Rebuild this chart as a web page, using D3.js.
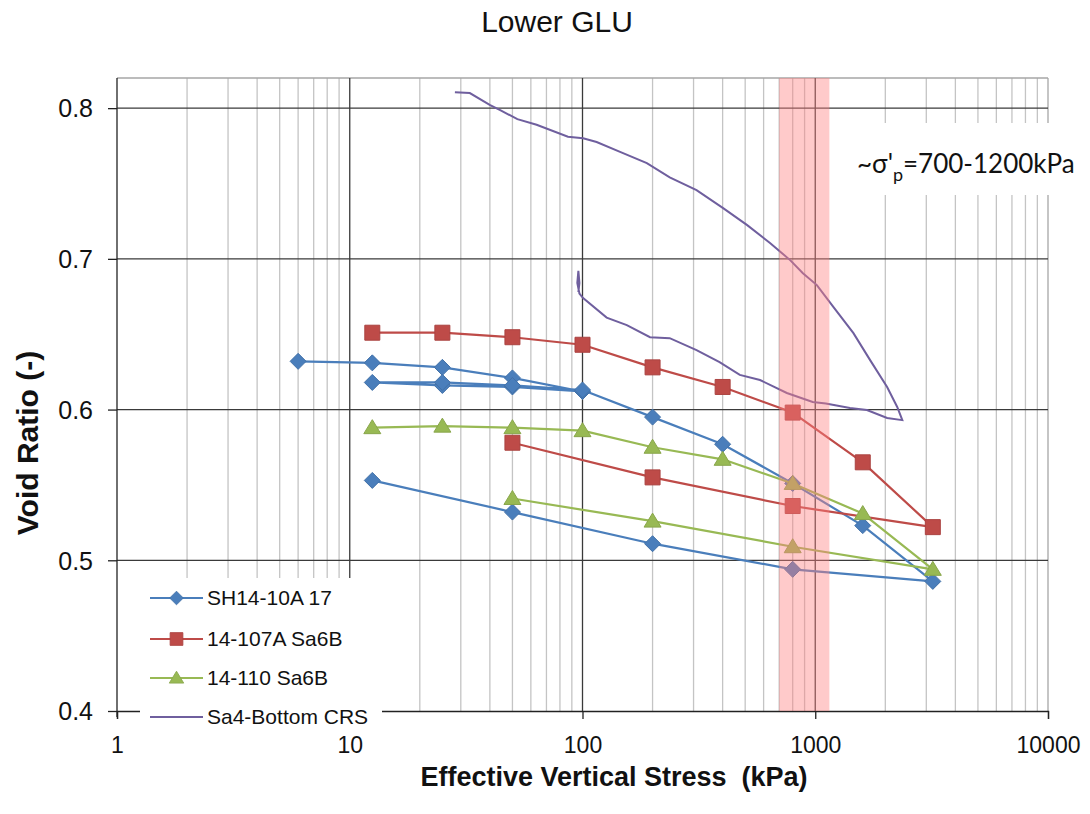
<!DOCTYPE html>
<html>
<head>
<meta charset="utf-8">
<script src="https://cdn.jsdelivr.net/npm/d3@7"></script>
<style>
  html, body { margin: 0; padding: 0; background: #fff; }
  svg { display: block; }
  text { font-family: "Liberation Sans", Arial, sans-serif; white-space: pre; }
</style>
</head>
<body>
<svg id="chart" width="1090" height="814"></svg>
<script>
// ---------------- DATA ----------------
const chartTitle = "Lower GLU";
const xAxisTitle = "Effective Vertical Stress  (kPa)";
const yAxisTitle = "Void Ratio (-)";
const xTickValues = [1, 10, 100, 1000, 10000];
const yTickValues = [0.4, 0.5, 0.6, 0.7, 0.8];
const seriesNames = ["SH14-10A 17", "14-107A Sa6B", "14-110 Sa6B", "Sa4-Bottom CRS"];

// SH14-10A 17 (load / unload-reload / load / unload)
const shStress = [6, 12.5, 25, 50, 100, 50, 25, 12.5, 25, 50, 100, 200, 400, 800, 1600, 3200, 800, 200, 50, 12.5];
const shVoid   = [0.632, 0.631, 0.628, 0.621, 0.612, 0.615, 0.616, 0.618, 0.618, 0.616, 0.613, 0.595, 0.577, 0.551, 0.523, 0.486, 0.494, 0.511, 0.532, 0.553];

// 14-107A Sa6B
const rdStress = [12.5, 25, 50, 100, 200, 400, 800, 1600, 3200, 800, 200, 50];
const rdVoid   = [0.651, 0.651, 0.648, 0.643, 0.628, 0.615, 0.598, 0.565, 0.522, 0.536, 0.555, 0.578];

// 14-110 Sa6B
const grStress = [12.5, 25, 50, 100, 200, 400, 800, 1600, 3200, 800, 200, 50];
const grVoid   = [0.588, 0.589, 0.588, 0.586, 0.575, 0.567, 0.551, 0.531, 0.494, 0.509, 0.526, 0.541];

// Sa4-Bottom CRS (continuous)
const crsStress = [28.3, 32.8, 40.1, 44.3, 52.5, 63.5, 86.6, 100.6, 115, 145, 189, 237, 309, 402, 510, 641, 782, 885, 1016, 1198, 1459, 1721, 2036, 2250, 2366,
                   2036, 1667, 1410, 1110, 975, 755, 579, 474, 388, 309, 237, 195, 155, 127, 100.6, 97, 95, 96, 97, 96];
const crsVoid   = [0.8106, 0.810, 0.802, 0.7987, 0.7927, 0.789, 0.781, 0.780, 0.7775, 0.771, 0.7635, 0.754, 0.7456, 0.7337, 0.7224, 0.7104, 0.699, 0.6905, 0.6826, 0.668, 0.6507, 0.6328, 0.615, 0.6017, 0.593,
                   0.5944, 0.5997, 0.601, 0.604, 0.605, 0.611, 0.6196, 0.623, 0.6315, 0.6395, 0.6474, 0.648, 0.656, 0.661, 0.674, 0.677, 0.684, 0.692, 0.684, 0.678];

// Preconsolidation band
const bandRange = [700, 1150];
const bandLabel = "=700-1200kPa";

// ---------------- CHART ----------------
const svg = d3.select("#chart");
const W = 1090, H = 814;
const m = { left: 117, right: 1048, top: 78, bottom: 711 };

const x = d3.scaleLog().domain([1, 10000]).range([m.left, m.right]);
const y = d3.scaleLinear().domain([0.4, 0.82]).range([m.bottom, m.top]);

svg.append("rect").attr("width", W).attr("height", H).attr("fill", "#fff");

// minor vertical grid
const minor = [];
[1, 10, 100, 1000].forEach(d => { for (let k = 2; k <= 9; k++) minor.push(d * k); });
svg.append("g").selectAll("line").data(minor).join("line")
  .attr("x1", d => x(d)).attr("x2", d => x(d))
  .attr("y1", m.top).attr("y2", m.bottom)
  .attr("stroke", "#c4c4c4").attr("stroke-width", 1.3);

// border top/right
svg.append("line").attr("x1", m.left).attr("x2", m.right).attr("y1", m.top).attr("y2", m.top)
  .attr("stroke", "#a6a6a6").attr("stroke-width", 1.3);
svg.append("line").attr("x1", m.right).attr("x2", m.right).attr("y1", m.top).attr("y2", m.bottom)
  .attr("stroke", "#a6a6a6").attr("stroke-width", 1.3);

// major vertical grid
svg.append("g").selectAll("line").data([10, 100, 1000]).join("line")
  .attr("x1", d => x(d)).attr("x2", d => x(d))
  .attr("y1", m.top).attr("y2", m.bottom)
  .attr("stroke", "#3a3a3a").attr("stroke-width", 1.3);

// major horizontal grid
svg.append("g").selectAll("line").data([0.5, 0.6, 0.7, 0.8]).join("line")
  .attr("x1", m.left).attr("x2", m.right)
  .attr("y1", d => y(d)).attr("y2", d => y(d))
  .attr("stroke", "#3a3a3a").attr("stroke-width", 1.3);

// axes
const xAxis = d3.axisBottom(x).tickValues(xTickValues).tickFormat(d3.format("d")).tickSize(8).tickPadding(18);
const yAxis = d3.axisLeft(y).tickValues(yTickValues).tickFormat(d3.format(".1f")).tickSize(9).tickPadding(15);

const gx = svg.append("g").attr("transform", `translate(0,${m.bottom})`).call(xAxis);
const gy = svg.append("g").attr("transform", `translate(${m.left},0)`).call(yAxis);
[gx, gy].forEach(g => {
  g.select(".domain").attr("stroke", "#222").attr("stroke-width", 1.3);
  g.selectAll(".tick line").attr("stroke", "#222").attr("stroke-width", 1.3);
  g.selectAll(".tick text").attr("fill", "#111")
    .style("font-family", "'Liberation Sans', Arial, sans-serif");
});
gx.selectAll(".tick text").style("font-size", "23px");
gy.selectAll(".tick text").style("font-size", "25px").attr("dy", "0.35em");
gy.select(".domain").attr("d", `M0,${m.bottom + 6}V${m.top}`);

// series
const series = [
  { name: seriesNames[0], xs: shStress, ys: shVoid, color: "#4a7ebb", marker: "diamond" },
  { name: seriesNames[1], xs: rdStress, ys: rdVoid, color: "#be4b48", marker: "square" },
  { name: seriesNames[2], xs: grStress, ys: grVoid, color: "#98b954", marker: "triangle" },
];
const crs = { name: seriesNames[3], xs: crsStress, ys: crsVoid, color: "#6f5f9e" };

const line = d3.line().x(d => x(d[0])).y(d => y(d[1]));

function markerPath(type) {
  if (type === "diamond") return "M0,-8L8,0L0,8L-8,0Z";
  if (type === "square") return "M-7.5,-7.5H7.5V7.5H-7.5Z";
  return "M0,-8L8.5,6L-8.5,6Z";
}

// CRS line
svg.append("path")
  .datum(crs.xs.map((v, i) => [v, crs.ys[i]]))
  .attr("d", line).attr("fill", "none")
  .attr("stroke", crs.color).attr("stroke-width", 2);

series.forEach(s => {
  const pts = s.xs.map((v, i) => [v, s.ys[i]]);
  svg.append("path").datum(pts).attr("d", line).attr("fill", "none")
    .attr("stroke", s.color).attr("stroke-width", 2.2).attr("stroke-linejoin", "round");
  svg.append("g").selectAll("path").data(pts).join("path")
    .attr("d", markerPath(s.marker))
    .attr("transform", d => `translate(${x(d[0])},${y(d[1])})`)
    .attr("fill", s.color).attr("stroke", d3.color(s.color).darker(0.3)).attr("stroke-width", 1);
});

// pink band over data
svg.append("rect")
  .attr("x", x(bandRange[0])).attr("width", x(bandRange[1]) - x(bandRange[0]))
  .attr("y", m.top).attr("height", m.bottom - m.top)
  .attr("fill", "#ff8080").attr("opacity", 0.42);

// annotation box
svg.append("rect").attr("x", 836).attr("y", 123).attr("width", 254).attr("height", 72).attr("fill", "#fff");
const ann = svg.append("text").attr("x", 857).attr("y", 173)
  .style("font-family", "Lato, 'Open Sans', sans-serif").style("font-size", "26px").attr("fill", "#111");
ann.append("tspan").text("~σ'");
ann.append("tspan").attr("dy", 8).style("font-size", "18px").text("p");
ann.append("tspan").attr("dy", -8).text(bandLabel);

// legend
const lg = svg.append("g");
lg.append("rect").attr("x", 140).attr("y", 578).attr("width", 242).attr("height", 148).attr("fill", "#fff");
const legendItems = [...series, { ...crs, marker: null }];
const rowsY = [598, 639, 678, 717];
legendItems.forEach((s, i) => {
  const ry = rowsY[i];
  lg.append("line").attr("x1", 150).attr("x2", 203).attr("y1", ry).attr("y2", ry)
    .attr("stroke", s.color).attr("stroke-width", 2.2);
  if (s.marker) {
    lg.append("path").attr("d", markerPath(s.marker))
      .attr("transform", `translate(176.5,${ry}) scale(0.85)`)
      .attr("fill", s.color).attr("stroke", d3.color(s.color).darker(0.3)).attr("stroke-width", 1);
  }
  lg.append("text").attr("x", 207).attr("y", ry).attr("dy", "0.35em")
    .style("font-size", "21px").attr("fill", "#111").text(s.name);
});

// titles
svg.append("text").attr("x", 557).attr("y", 32).attr("text-anchor", "middle")
  .style("font-size", "30px").attr("fill", "#111").text(chartTitle);
svg.append("text").attr("x", 614).attr("y", 786).attr("text-anchor", "middle")
  .style("font-size", "27px").style("font-weight", "bold").attr("fill", "#111").text(xAxisTitle);
svg.append("text").attr("transform", `translate(38,443) rotate(-90)`).attr("text-anchor", "middle")
  .style("font-size", "30px").style("font-weight", "bold").attr("fill", "#111").text(yAxisTitle);
</script>
</body>
</html>
